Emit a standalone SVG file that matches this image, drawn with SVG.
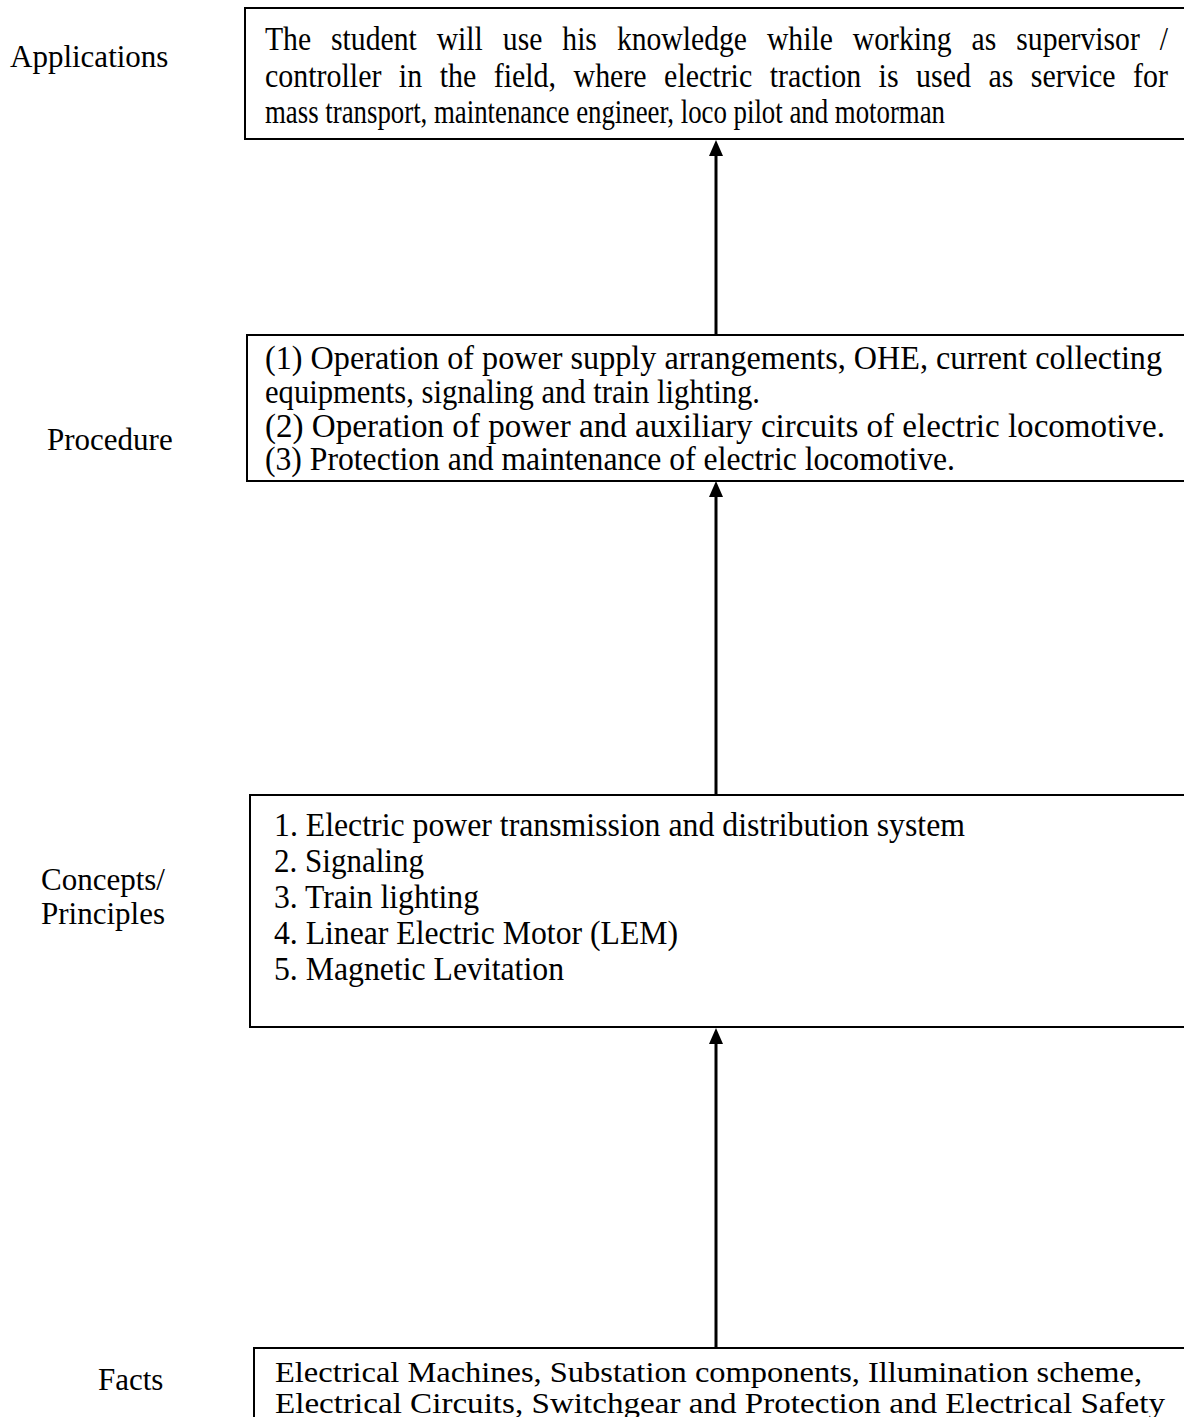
<svg xmlns="http://www.w3.org/2000/svg" width="1184" height="1417" viewBox="0 0 1184 1417">
<defs>
<style>
.box{fill:#fff;stroke:#000;stroke-width:2}
.t{font-family:"Liberation Serif","Times New Roman",serif;font-size:33px;fill:#000}
.f{font-family:"Liberation Serif","Times New Roman",serif;font-size:30px;fill:#000}
.lbl{font-family:"Liberation Serif","Times New Roman",serif;font-size:31px;fill:#000}
.conn{stroke:#000;stroke-width:3;fill:none}
</style>
<marker id="ah" markerWidth="16" markerHeight="14" refX="0" refY="7" orient="auto" markerUnits="userSpaceOnUse" viewBox="0 0 16 14">
<path d="M0,0 L16,7 L0,14 Z" fill="#000"/>
</marker>
</defs>
<rect width="1184" height="1417" fill="#fff"/>
<g id="labels">
<text class="lbl" x="10" y="67">Applications</text>
<text class="lbl" x="47" y="450">Procedure</text>
<text class="lbl" x="41" y="890">Concepts/</text>
<text class="lbl" x="41" y="924">Principles</text>
<text class="lbl" x="98" y="1390">Facts</text>
</g>
<g id="connectors">
<line class="conn" x1="716" y1="335" x2="716" y2="156" marker-end="url(#ah)"/>
<line class="conn" x1="716" y1="795" x2="716" y2="497" marker-end="url(#ah)"/>
<line class="conn" x1="716" y1="1348" x2="716" y2="1044" marker-end="url(#ah)"/>
</g>
<g id="applications">
<rect class="box" x="245" y="8" width="960" height="131"/>
<text class="t" x="265" y="50" textLength="903" lengthAdjust="spacingAndGlyphs" word-spacing="14">The student will use his knowledge while working as supervisor /</text>
<text class="t" x="265" y="87" textLength="903" lengthAdjust="spacingAndGlyphs" word-spacing="11">controller in the field, where electric traction is used as service for</text>
<text class="t" x="265" y="123" textLength="680" lengthAdjust="spacingAndGlyphs">mass transport, maintenance engineer, loco pilot and motorman</text>
</g>
<g id="procedure">
<rect class="box" x="247" y="335" width="960" height="146"/>
<text class="t" x="265" y="369" textLength="897" lengthAdjust="spacingAndGlyphs">(1) Operation of power supply arrangements, OHE, current collecting</text>
<text class="t" x="265" y="403" textLength="495" lengthAdjust="spacingAndGlyphs">equipments, signaling and train lighting.</text>
<text class="t" x="265" y="437" textLength="900" lengthAdjust="spacingAndGlyphs">(2) Operation of power and auxiliary circuits of electric locomotive.</text>
<text class="t" x="265" y="470" textLength="690" lengthAdjust="spacingAndGlyphs">(3) Protection and maintenance of electric locomotive.</text>
</g>
<g id="concepts">
<rect class="box" x="250" y="795" width="960" height="232"/>
<text class="t" x="274" y="836" textLength="691" lengthAdjust="spacingAndGlyphs">1. Electric power transmission and distribution system</text>
<text class="t" x="274" y="872" textLength="150" lengthAdjust="spacingAndGlyphs">2. Signaling</text>
<text class="t" x="274" y="908" textLength="205" lengthAdjust="spacingAndGlyphs">3. Train lighting</text>
<text class="t" x="274" y="944" textLength="404" lengthAdjust="spacingAndGlyphs">4. Linear Electric Motor (LEM)</text>
<text class="t" x="274" y="980" textLength="290" lengthAdjust="spacingAndGlyphs">5. Magnetic Levitation</text>
</g>
<g id="facts">
<rect class="box" x="254" y="1348" width="960" height="100"/>
<text class="f" x="275" y="1382" textLength="867" lengthAdjust="spacingAndGlyphs">Electrical Machines, Substation components, Illumination scheme,</text>
<text class="f" x="275" y="1413" textLength="890" lengthAdjust="spacingAndGlyphs">Electrical Circuits, Switchgear and Protection and Electrical Safety</text>
</g>
</svg>
